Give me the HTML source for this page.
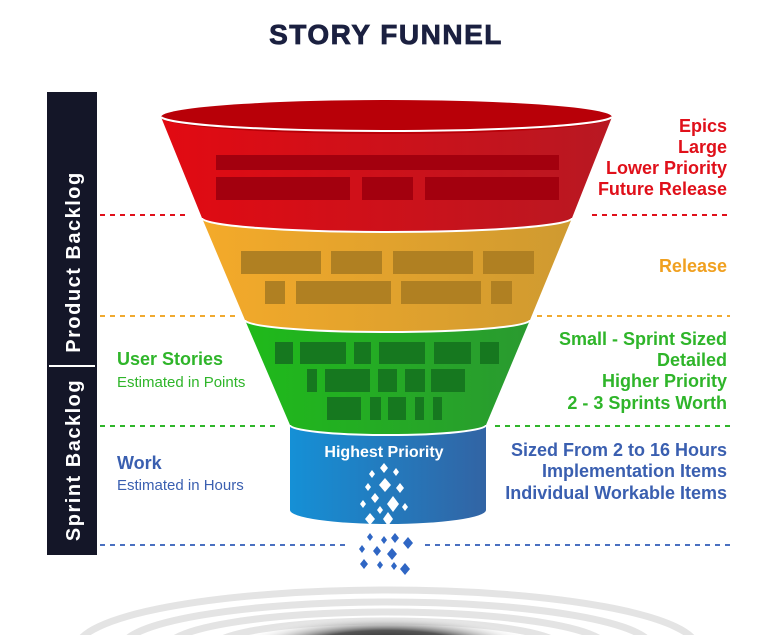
<!DOCTYPE html>
<html><head><meta charset="utf-8"><style>
html,body{margin:0;background:#fff;width:768px;height:635px;overflow:hidden;}
svg{display:block}
text{font-family:"Liberation Sans",sans-serif;font-weight:bold}
</style></head><body>
<svg width="768" height="635" viewBox="0 0 768 635" xmlns="http://www.w3.org/2000/svg">
<defs>
<linearGradient id="gr" x1="0" x2="1"><stop offset="0" stop-color="#e20a12"/><stop offset="1" stop-color="#b81822"/></linearGradient>
<linearGradient id="go" x1="0" x2="1"><stop offset="0" stop-color="#f4aa2a"/><stop offset="1" stop-color="#cf9a30"/></linearGradient>
<linearGradient id="gg" x1="0" x2="1"><stop offset="0" stop-color="#1fba1a"/><stop offset="1" stop-color="#2a9a30"/></linearGradient>
<linearGradient id="gb" x1="0" x2="1"><stop offset="0" stop-color="#1590d6"/><stop offset="1" stop-color="#3264a4"/></linearGradient>
<radialGradient id="sh" cx="0.5" cy="0.5" r="0.5"><stop offset="0" stop-color="#111"/><stop offset="0.55" stop-color="#555"/><stop offset="1" stop-color="#fff" stop-opacity="0"/></radialGradient>
</defs>
<text x="386" y="44" text-anchor="middle" font-size="28" fill="#1b2040" letter-spacing="1.5" stroke="#1b2040" stroke-width="0.8">STORY FUNNEL</text>

<rect x="47" y="92" width="50" height="463" fill="#141628"/>
<line x1="49" y1="366" x2="95" y2="366" stroke="#fff" stroke-width="2"/>
<text transform="translate(80,262) rotate(-90)" text-anchor="middle" font-size="20" letter-spacing="1.5" fill="#fff">Product Backlog</text>
<text transform="translate(80,460) rotate(-90)" text-anchor="middle" font-size="20" letter-spacing="1.5" fill="#fff">Sprint Backlog</text>

<g stroke-width="2" stroke-dasharray="5,5">
<line x1="100" y1="215" x2="185" y2="215" stroke="#e0101a"/><line x1="592" y1="215" x2="730" y2="215" stroke="#e0101a"/>
<line x1="100" y1="316" x2="235" y2="316" stroke="#f0aa30"/><line x1="537" y1="316" x2="730" y2="316" stroke="#f0aa30"/>
<line x1="100" y1="426" x2="275" y2="426" stroke="#2fb52a"/><line x1="495" y1="426" x2="730" y2="426" stroke="#2fb52a"/>
<line x1="100" y1="545" x2="350" y2="545" stroke="#4a70c0"/><line x1="425" y1="545" x2="730" y2="545" stroke="#4a70c0"/>
</g>

<g fill="none" stroke="#e4e4e4" stroke-width="7">
<ellipse cx="387" cy="648" rx="310" ry="58"/>
<ellipse cx="387" cy="648" rx="265" ry="46"/>
<ellipse cx="387" cy="648" rx="220" ry="36"/>
<ellipse cx="387" cy="648" rx="175" ry="27"/>
</g>
<ellipse cx="387" cy="648" rx="150" ry="32" fill="url(#sh)"/>

<path d="M290 425 L290 510 A98 14 0 0 0 486 510 L486 425 Z" fill="url(#gb)"/>
<path d="M245 320 A142 12 0 0 0 530 320 L486 425 A98 10 0 0 1 290 425 Z" fill="url(#gg)"/>
<path d="M290 425 A98 10 0 0 0 486 425" fill="none" stroke="#fff" stroke-width="2"/>
<path d="M202 218 A185 14 0 0 0 572 218 L530 320 A142 12 0 0 1 245 320 Z" fill="url(#go)"/>
<path d="M245 320 A142 12 0 0 0 530 320" fill="none" stroke="#fff" stroke-width="2"/>
<path d="M161 117 A226 15 0 0 0 612 117 L572 218 A185 14 0 0 1 202 218 Z" fill="url(#gr)"/>
<path d="M202 218 A185 14 0 0 0 572 218" fill="none" stroke="#fff" stroke-width="2"/>
<ellipse cx="386.5" cy="117" rx="225.5" ry="17" fill="#b80008"/>
<path d="M161 117 A226 15 0 0 0 612 117" fill="none" stroke="#fff" stroke-width="2"/>

<g fill="#a3000e">
<rect x="216" y="155" width="343" height="15"/>
<rect x="216" y="177" width="134" height="23"/><rect x="362" y="177" width="51" height="23"/><rect x="425" y="177" width="134" height="23"/>
</g>
<g fill="#b08022">
<rect x="241" y="251" width="80" height="23"/><rect x="331" y="251" width="51" height="23"/><rect x="393" y="251" width="80" height="23"/><rect x="483" y="251" width="51" height="23"/>
<rect x="265" y="281" width="20" height="23"/><rect x="296" y="281" width="95" height="23"/><rect x="401" y="281" width="80" height="23"/><rect x="491" y="281" width="21" height="23"/>
</g>
<g fill="#16781f">
<rect x="275" y="342" width="18" height="22"/><rect x="300" y="342" width="46" height="22"/><rect x="354" y="342" width="17" height="22"/><rect x="379" y="342" width="46" height="22"/><rect x="434" y="342" width="37" height="22"/><rect x="480" y="342" width="19" height="22"/>
<rect x="307" y="369" width="10" height="23"/><rect x="325" y="369" width="45" height="23"/><rect x="378" y="369" width="19" height="23"/><rect x="405" y="369" width="20" height="23"/><rect x="431" y="369" width="34" height="23"/>
<rect x="327" y="397" width="34" height="23"/><rect x="370" y="397" width="11" height="23"/><rect x="388" y="397" width="18" height="23"/><rect x="415" y="397" width="9" height="23"/><rect x="433" y="397" width="9" height="23"/>
</g>

<text x="384" y="457" text-anchor="middle" font-size="16" fill="#fff">Highest Priority</text>
<g fill="#fff">
<path d="M384 463l4 5-4 5-4-5z"/><path d="M372 470l3 4-3 4-3-4z"/><path d="M396 468l3 4-3 4-3-4z"/>
<path d="M385 478l6 7-6 7-6-7z"/><path d="M368 483l3 4-3 4-3-4z"/><path d="M400 483l4 5-4 5-4-5z"/>
<path d="M375 493l4 5-4 5-4-5z"/><path d="M393 496l6 8-6 8-6-8z"/><path d="M363 500l3 4-3 4-3-4z"/>
<path d="M380 506l3 4-3 4-3-4z"/><path d="M405 503l3 4-3 4-3-4z"/><path d="M370 513l5 6-5 6-5-6z"/><path d="M388 512l5 7-5 7-5-7z"/>
</g>
<g fill="#2f66c4">
<path d="M370 533l3 4-3 4-3-4z"/><path d="M384 536l3 4-3 4-3-4z"/><path d="M395 533l4 5-4 5-4-5z"/><path d="M408 537l5 6-5 6-5-6z"/>
<path d="M362 545l3 4-3 4-3-4z"/><path d="M377 546l4 5-4 5-4-5z"/><path d="M392 548l5 6-5 6-5-6z"/>
<path d="M364 559l4 5-4 5-4-5z"/><path d="M380 561l3 4-3 4-3-4z"/><path d="M394 562l3 4-3 4-3-4z"/><path d="M405 563l5 6-5 6-5-6z"/>
</g>

<g text-anchor="end" font-size="18">
<text x="727" y="132" fill="#e0101a">Epics</text>
<text x="727" y="153" fill="#e0101a">Large</text>
<text x="727" y="174" fill="#e0101a">Lower Priority</text>
<text x="727" y="195" fill="#e0101a">Future Release</text>
<text x="727" y="272" fill="#f0a020">Release</text>
<text x="727" y="345" fill="#2fb52a">Small - Sprint Sized</text>
<text x="727" y="366" fill="#2fb52a">Detailed</text>
<text x="727" y="387" fill="#2fb52a">Higher Priority</text>
<text x="727" y="409" fill="#2fb52a">2 - 3 Sprints Worth</text>
<text x="727" y="456" fill="#3a5fb0">Sized From 2 to 16 Hours</text>
<text x="727" y="477" fill="#3a5fb0">Implementation Items</text>
<text x="727" y="499" fill="#3a5fb0">Individual Workable Items</text>
</g>
<text x="117" y="365" font-size="18" fill="#2fb52a">User Stories</text>
<text x="117" y="387" font-size="15" style="font-weight:normal" fill="#2fb52a">Estimated in Points</text>
<text x="117" y="469" font-size="18" fill="#3a5fb0">Work</text>
<text x="117" y="490" font-size="15" style="font-weight:normal" fill="#3a5fb0">Estimated in Hours</text>
</svg>
</body></html>
